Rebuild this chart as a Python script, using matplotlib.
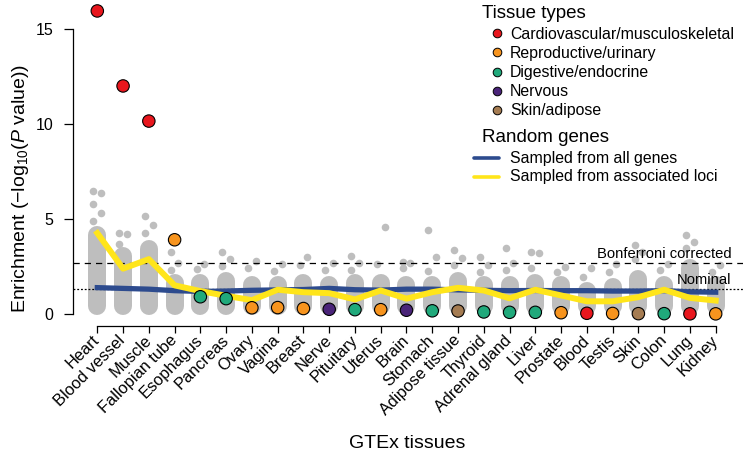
import matplotlib
matplotlib.use("Agg")
import matplotlib.pyplot as plt
from matplotlib.lines import Line2D
import numpy as np

plt.rcParams["font.family"] = ["Liberation Sans", "DejaVu Sans"]
plt.rcParams["mathtext.fontset"] = "custom"
plt.rcParams["mathtext.rm"] = "Liberation Sans"
plt.rcParams["mathtext.it"] = "Liberation Sans:italic"

# step 1

tissues = ["Heart", "Blood vessel", "Muscle", "Fallopian tube", "Esophagus",
           "Pancreas", "Ovary", "Vagina", "Breast", "Nerve", "Pituitary",
           "Uterus", "Brain", "Stomach", "Adipose tissue", "Thyroid",
           "Adrenal gland", "Liver", "Prostate", "Blood", "Testis", "Skin",
           "Colon", "Lung", "Kidney"]

# C = cardiovascular, R = reproductive, D = digestive, N = nervous, S = skin
tissue_type = ["C", "C", "C", "R", "D", "D", "R", "R", "R", "N", "D", "R", "N",
               "D", "S", "D", "D", "D", "R", "C", "R", "S", "D", "C", "R"]

enrichment = [15.95, 12.0, 10.15, 3.9, 0.9, 0.8, 0.32, 0.33, 0.28, 0.24, 0.22,
              0.22, 0.19, 0.16, 0.15, 0.1, 0.08, 0.08, 0.06, 0.03, 0.02, 0.01,
              0.01, 0.0, 0.0]

random_all = [1.38, 1.34, 1.3, 1.22, 1.18, 1.2, 1.24, 1.26, 1.28, 1.34, 1.27,
              1.25, 1.3, 1.3, 1.26, 1.24, 1.22, 1.23, 1.22, 1.22, 1.2, 1.2,
              1.22, 1.16, 1.14]

random_loci = [4.25, 2.38, 2.88, 1.5, 1.2, 0.95, 0.72, 1.27, 1.14, 1.09, 0.76,
               1.23, 0.8, 1.14, 1.37, 1.23, 0.82, 1.27, 0.97, 0.66, 0.66, 0.88,
               1.27, 0.84, 0.7]

# grey random-gene samples: top of the dense strip + the scattered points above it
grey_top = [4.6, 3.5, 3.9, 2.1, 2.1, 2.2, 2.0, 2.0, 2.1, 2.0, 2.1, 2.1, 2.0,
            2.0, 2.2, 2.0, 2.0, 2.1, 2.0, 1.7, 1.9, 2.3, 2.0, 2.9, 2.0]
grey_extra = [[4.9, 5.3, 5.8, 6.35, 6.45], [3.7, 4.2, 4.25], [4.25, 4.7, 5.15],
              [2.3, 2.7, 3.25], [2.35, 2.65], [2.5, 2.9, 3.25], [2.4, 2.8],
              [2.25, 2.6], [2.55, 3.0], [2.3, 2.7], [2.3, 2.7, 3.05],
              [2.65, 4.55], [2.4, 2.7, 2.75], [2.25, 3.0, 4.4],
              [2.55, 2.95, 3.35], [2.2, 2.55, 3.0], [2.3, 2.7, 3.45],
              [2.4, 3.2, 3.25], [2.2, 2.45], [1.95, 2.4], [2.2, 2.65],
              [2.9, 3.25, 3.6], [2.3, 2.65], [3.45, 3.8, 4.15], [2.2, 2.55]]

type_codes = ["C", "R", "D", "N", "S"]
type_names = ["Cardiovascular/musculoskeletal", "Reproductive/urinary",
              "Digestive/endocrine", "Nervous", "Skin/adipose"]
type_colors = ["#E8161D", "#F7941E", "#20A97B", "#4A2479", "#A57C52"]

bonferroni = -np.log10(0.05 / len(tissues))
nominal = -np.log10(0.05)

blue = "#2D4B8E"
yellow = "#FFE51A"
grey = "#BEBEBE"

# step 2 - figure

W, H = 750, 454
fig = plt.figure(figsize=(W / 100, H / 100), dpi=100)
ax_left, ax_right, ax_top, ax_bottom = 72.7, 743, 0.5, 326
ax = fig.add_axes([ax_left / W, 1 - ax_bottom / H,
                   (ax_right - ax_left) / W, (ax_bottom - ax_top) / H])
ylo, yhi = -0.64, 16.5
ax.set_xlim(-0.955, 25.06)
ax.set_ylim(ylo, yhi)

x = np.arange(len(tissues))

# dense part of the grey strips as thick rounded lines
px_per_unit = (ax_bottom - ax_top) / (yhi - ylo)
strip_px = 18
cap = strip_px / 2 / px_per_unit
for i in x:
    ax.plot([i, i], [-0.08 + cap, grey_top[i] - cap], color=grey,
            lw=strip_px * 0.72, solid_capstyle="round", zorder=1)

gx, gy = [], []
for i in x:
    for k, v in enumerate(grey_extra[i]):
        gx.append(i + (-0.15 if k % 2 == 0 else 0.15))
        gy.append(v)
ax.scatter(gx, gy, s=30, color=grey, linewidths=0, zorder=1)

# thresholds
ax.axhline(bonferroni, color="black", lw=0.9, ls=(0, (5, 4)), zorder=2)
ax.axhline(nominal, color="black", lw=0.9, ls=(0, (1.5, 1.5)), zorder=2)
ax.annotate("Bonferroni corrected", xy=(0.983, bonferroni),
            xycoords=("axes fraction", "data"), xytext=(0, 3.6),
            textcoords="offset points", ha="right", va="baseline", fontsize=10.6)
ax.annotate("Nominal", xy=(0.983, nominal),
            xycoords=("axes fraction", "data"), xytext=(0, 3.6),
            textcoords="offset points", ha="right", va="baseline", fontsize=10.6)

# random gene lines
ax.plot(x, random_all, color=blue, lw=3.8, solid_joinstyle="round", zorder=3)
ax.plot(x, random_loci, color=yellow, lw=4.3, solid_joinstyle="round", zorder=4)

# tissue enrichment points
point_colors = [type_colors[type_codes.index(t)] for t in tissue_type]
ax.scatter(x, enrichment, s=80, c=point_colors, edgecolors="black",
           linewidths=0.8, zorder=5, clip_on=False)

# axes R-style
for s in ["top", "right"]:
    ax.spines[s].set_visible(False)
ax.spines["left"].set_bounds(0, 15)
ax.spines["bottom"].set_bounds(0, len(tissues) - 1)
for s in ["left", "bottom"]:
    ax.spines[s].set_linewidth(0.9)

ax.set_yticks([0, 5, 10, 15])
ax.tick_params(axis="y", length=6.3, width=0.9, pad=7.7, labelsize=11.5)
ax.set_xticks(x)
ax.set_xticklabels(tissues, rotation=45, ha="right", va="center",
                   rotation_mode="anchor")
ax.tick_params(axis="x", length=5, width=0.9, pad=3.5, labelsize=11.8)

ax.set_ylabel("Enrichment (\u2212log$_{10}$($\\mathit{P}$ value))",
              fontsize=14, va="center")
ax.yaxis.set_label_coords((20 - ax_left) / (ax_right - ax_left),
                          (ax_bottom - 188.5) / (ax_bottom - ax_top))
ax.set_xlabel("GTEx tissues", fontsize=14, va="center")
ax.xaxis.set_label_coords(0.4995, (ax_bottom - 443) / (ax_bottom - ax_top))

# step 3 - legends drawn in figure pixels


def fx(px):
    return px / W


def fy(py):
    return 1 - py / H


fig.text(fx(481.7), fy(13), "Tissue types", fontsize=13.5, va="center")
for k, name in enumerate(type_names):
    yk = 33.3 + 19.15 * k
    fig.add_artist(Line2D([fx(496.7)], [fy(yk)], marker="o", markersize=6.2,
                          markerfacecolor=type_colors[k], markeredgecolor="black",
                          markeredgewidth=0.7, linestyle="none"))
    fig.text(fx(510), fy(yk + 1), name, fontsize=11.4, va="center")

fig.text(fx(481.7), fy(137), "Random genes", fontsize=13.5, va="center")
for k, (name, col) in enumerate([("Sampled from all genes", blue),
                                 ("Sampled from associated loci", yellow)]):
    yk = 158.3 + 18.4 * k
    fig.add_artist(Line2D([fx(474), fx(499)], [fy(yk), fy(yk)], color=col,
                          lw=2.6, solid_capstyle="round"))
    fig.text(fx(510), fy(yk), name, fontsize=11.4, va="center")

plt.savefig("out.png", dpi=100)
plt.close()
print("saved out.png")
